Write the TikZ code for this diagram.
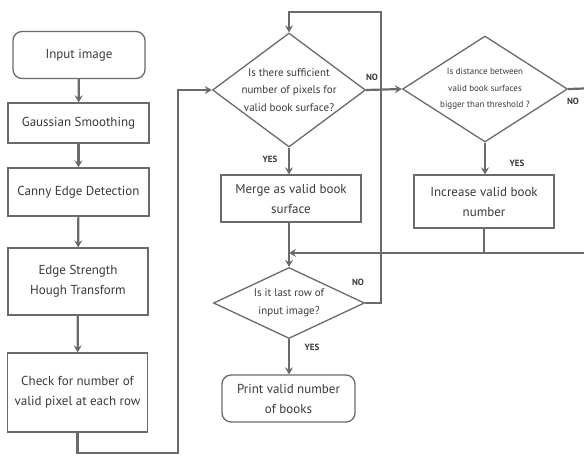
\documentclass[tikz,border=0pt]{standalone}
\usepackage{fontspec}
\setmainfont{PT Sans}
\usetikzlibrary{shapes.geometric,arrows.meta}
\definecolor{linegray}{HTML}{6A6A6A}
\definecolor{txtgray}{HTML}{3A3A3A}
\begin{document}
\begin{tikzpicture}[x=1pt,y=-1pt,
  every node/.style={text=txtgray},
  box/.style={draw=linegray,line width=1.3pt,rectangle,align=center,inner sep=1pt,
    font=\fontsize{13}{20}\selectfont},
  rbox/.style={box,rounded corners=9pt},
  dec/.style={draw=linegray,line width=1.3pt,diamond,inner sep=0pt},
  dtext/.style={align=center,inner sep=0pt,font=\fontsize{11}{17.5}\selectfont},
  conn/.style={draw=linegray,line width=2.2pt},
  arr/.style={conn,-{Stealth[length=7pt,width=8pt,inset=2.5pt]}},
  lab/.style={font=\bfseries\fontsize{9}{10}\selectfont,inner sep=0pt}]
\clip (0,0) rectangle (584,456);
\fill[white] (0,0) rectangle (584,456);
% left column
\node[rbox,minimum width=132pt,minimum height=47pt] (in) at (79,55) {Input image};
\node[box,minimum width=141pt,minimum height=40pt] (gs) at (78.5,123) {Gaussian Smoothing};
\node[box,minimum width=141pt,minimum height=48pt] (ce) at (78.5,192) {Canny Edge Detection};
\node[box,minimum width=140pt,minimum height=67pt] (eh) at (78,281.5) {Edge Strength\\Hough Transform};
\node[box,minimum width=140pt,minimum height=79pt] (ck) at (77.5,392.5) {Check for number of\\valid pixel at each row};
% middle column
\node[dec,minimum width=153pt,minimum height=114pt] (d1) at (289,90) {};
\node[dtext] (d1t) at (d1.center) {Is there sufficient\\number of pixels for\\valid book surface?};
\node[box,minimum width=140pt,minimum height=47pt] (mg) at (291,198.5) {Merge as valid book\\surface};
\node[dec,minimum width=151pt,minimum height=71pt] (d4) at (289,303) {};
\node[dtext,font=\fontsize{11}{18}\selectfont] (d4t) at (d4.center) {Is it last row of\\input image?};
\node[rbox,minimum width=133pt,minimum height=47pt] (pr) at (288.5,398.5) {Print valid number\\of books};
% right column
\node[dec,minimum width=165pt,minimum height=106pt] (d2) at (485,89) {};
\node[dtext,font=\fontsize{9}{16.5}\selectfont] (d2t) at (d2.center) {Is distance between\\valid book surfaces\\bigger than threshold ?};
\node[box,minimum width=140pt,minimum height=53pt] (inc) at (484,201.5) {Increase valid book\\number};
% coordinates
\coordinate (c1) at (178,453);
\coordinate (lp) at (381,12);
\coordinate (r1) at (600,88);
\coordinate (r2) at (600,253);
\coordinate (j) at (289,253);
% connectors
\draw[arr] (in) -- (gs);
\draw[arr] (gs) -- (ce);
\draw[arr] (ce) -- (eh);
\draw[arr] (eh) -- (ck);
\draw[arr] (ck.south) |- (c1) |- (d1.west);
\draw[arr] (d1.east) -- (d2.west);
\draw[arr] (d1.south) -- (d1.south |- mg.north);
\draw[arr] (mg.south -| d4.north) -- (d4.north);
\draw[arr] (d4.east) -| (lp) -| (d1.north);
\draw[arr] (d4.south) -- (d4.south |- pr.north);
\draw[arr] (d2.south) -- (d2.south |- inc.north);
\draw[conn] (d2.east) -- (r1) -- (r2);
\draw[conn] (inc.south) -- (inc.south |- j);
\draw[arr] (r2) -- (j);
% labels
\node[lab] (n1) at (372,77) {NO};
\node[lab] (y1) at (270,159) {YES};
\node[lab] (n4) at (358,282) {NO};
\node[lab] (y4) at (312,347) {YES};
\node[lab] (n2) at (573,101) {NO};
\node[lab] (y2) at (517,163) {YES};
\end{tikzpicture}
\end{document}
